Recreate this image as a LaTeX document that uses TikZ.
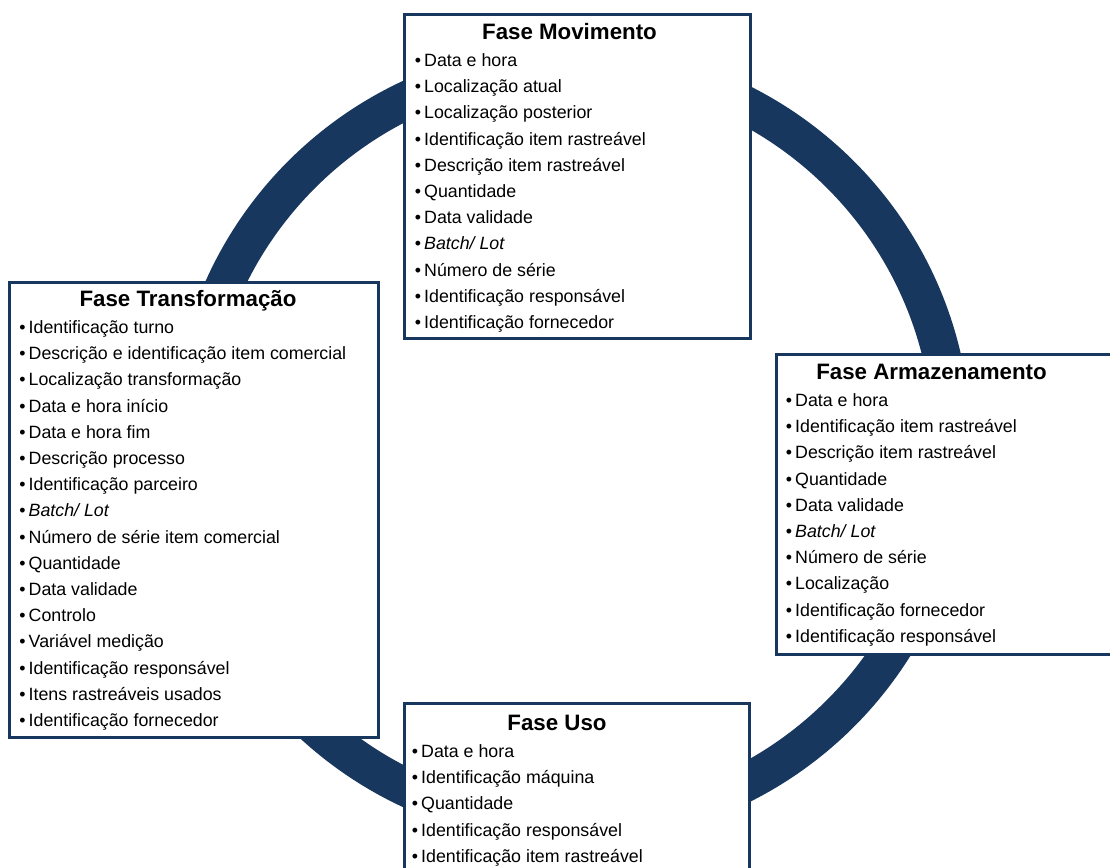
\documentclass[tikz,border=0pt]{standalone}
\usepackage{fontspec}
\setmainfont{Liberation Sans}
\definecolor{navy}{HTML}{17375E}
\tikzset{
  phasebox/.style={draw=navy, line width=3pt, fill=white, rectangle,
    anchor=north west, inner sep=0pt},
  phasetitle/.style={anchor=base, inner sep=0pt,
    font=\fontsize{22.3}{26}\selectfont\bfseries},
  item/.style={anchor=base west, inner sep=0pt,
    font=\fontsize{17.8}{21}\selectfont},
}
\newcommand\bul{\llap{•\kern3pt}}
\begin{document}
\begin{tikzpicture}[x=1pt, y=-1pt]
  \clip (0,0) rectangle (1110,867);
  \fill[white] (0,0) rectangle (1110,867);

  % the cycle ring behind the four phases
  \draw[navy, line width=38pt] (571,444) circle[radius=381pt];

  % phase frames
  \node[phasebox, minimum width=346pt, minimum height=324pt] (movbox) at (403,13) {};
  \node[phasebox, minimum width=369pt, minimum height=455pt] (trabox) at (8,281) {};
  \node[phasebox, minimum width=345pt, minimum height=300pt] (armbox) at (775,353) {};
  \node[phasebox, minimum width=345pt, minimum height=178pt] (usobox) at (403,702) {};

  % titles
  \node[phasetitle] (movtitle) at (569.5,39.5) {Fase Movimento};
  \node[phasetitle] (tratitle) at (188,306.5) {Fase Transformação};
  \node[phasetitle] (armtitle) at (931.5,379) {Fase Armazenamento};
  \node[phasetitle] (usotitle) at (557,730) {Fase Uso};

  % Fase Movimento
  \foreach \t [count=\i from 0] in {Data e hora, Localização atual,
      Localização posterior, Identificação item rastreável,
      Descrição item rastreável, Quantidade, Data validade,
      {\textit{Batch/ Lot}}, Número de série, Identificação responsável,
      Identificação fornecedor}
    \node[item] (mov-\i) at (424, 66.5+26.2*\i) {\bul\t};

  % Fase Transformação
  \foreach \t [count=\i from 0] in {Identificação turno,
      Descrição e identificação item comercial, Localização transformação,
      Data e hora início, Data e hora fim, Descrição processo,
      Identificação parceiro, {\textit{Batch/ Lot}},
      Número de série item comercial, Quantidade, Data validade, Controlo,
      Variável medição, Identificação responsável, Itens rastreáveis usados,
      Identificação fornecedor}
    \node[item] (tra-\i) at (28.5, 333.5+26.2*\i) {\bul\t};

  % Fase Armazenamento
  \foreach \t [count=\i from 0] in {Data e hora, Identificação item rastreável,
      Descrição item rastreável, Quantidade, Data validade,
      {\textit{Batch/ Lot}}, Número de série, Localização,
      Identificação fornecedor, Identificação responsável}
    \node[item] (arm-\i) at (795, 406.5+26.2*\i) {\bul\t};

  % Fase Uso
  \foreach \t [count=\i from 0] in {Data e hora, Identificação máquina,
      Quantidade, Identificação responsável, Identificação item rastreável}
    \node[item] (uso-\i) at (421, 757.5+26.2*\i) {\bul\t};
\end{tikzpicture}
\end{document}
